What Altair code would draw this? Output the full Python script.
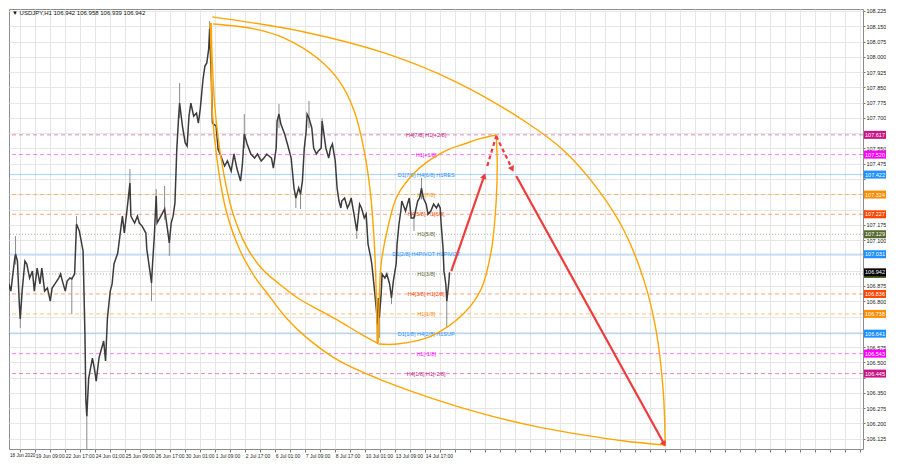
import json
import altair as alt
import pandas as pd

W, H = 854, 440
X_DOM = [4.0, 915.0]
Y_DOM = [106.0748, 108.2348]
FONT = "Liberation Sans"

# ---------------- price path (hour index, close) ----------------
bar_idx = [0, 2, 4, 6, 10, 11, 13, 15, 16, 18, 21, 23, 26, 29, 31, 34, 37, 39, 42, 45,
           48, 50, 53, 57, 59, 61, 64, 66, 69, 71, 74, 76, 79, 81, 83, 85, 86, 87, 89, 91,
           93, 95, 97, 100, 102, 105, 107, 109, 112, 114, 116, 120, 124, 125, 127, 130, 133, 134, 138, 141,
           143, 146, 150, 151, 154, 156, 157, 159, 161, 162, 166, 170, 173, 175, 177, 179, 181, 183, 185, 186,
           189, 192, 194, 196, 198, 201, 204, 206, 208, 209, 211, 213, 215, 217, 218, 220, 221, 225, 227, 230,
           234, 237, 241, 244, 247, 251, 253, 255, 258, 262, 266, 269, 273, 276, 279, 284, 286, 289, 290, 292,
           294, 298, 301, 305, 306, 308, 310, 313, 315, 317, 319, 321, 322, 324, 327, 329, 332, 334, 337, 338,
           340, 342, 345, 347, 349, 352, 354, 356, 358, 359, 362, 365, 367, 369, 372, 375, 378, 380, 383, 385,
           387, 390, 391, 394, 396, 397, 398, 399, 401, 402, 405, 407, 410, 412, 414, 417, 418, 420, 422, 423,
           427, 429, 431, 433, 436, 440, 442, 444, 446, 449, 451, 454, 457, 460, 462, 464, 465, 467, 468, 470,
           471, 473, 474]
close = [107.022, 106.801, 106.885, 106.850, 107.007, 107.032, 106.998, 106.786, 106.713, 106.850,
         106.998, 106.983, 106.914, 106.948, 106.850, 106.963, 106.885, 106.963, 106.850, 106.865,
         106.801, 106.865, 106.885, 106.914, 106.934, 106.899, 106.850, 106.899, 106.914, 106.909,
         106.934, 107.179, 107.145, 107.096, 107.047, 106.639, 106.310, 106.236, 106.423, 106.472,
         106.521, 106.472, 106.408, 106.521, 106.556, 106.605, 106.507, 106.718, 106.850, 106.885,
         106.983, 107.037, 107.184, 107.218, 107.135, 107.253, 107.380, 107.218, 107.184, 107.218,
         107.184, 107.169, 107.135, 107.056, 106.958, 106.890, 106.973, 107.120, 107.317, 107.184,
         107.218, 107.253, 107.155, 107.086, 107.184, 107.218, 107.282, 107.547, 107.709, 107.773,
         107.660, 107.577, 107.562, 107.709, 107.773, 107.709, 107.724, 107.675, 107.744, 107.793,
         107.891, 107.955, 107.970, 108.038, 108.137, 107.871, 107.675, 107.660, 107.547, 107.513,
         107.464, 107.489, 107.439, 107.523, 107.454, 107.390, 107.474, 107.621, 107.572, 107.523,
         107.503, 107.523, 107.489, 107.503, 107.523, 107.503, 107.454, 107.552, 107.685, 107.719,
         107.670, 107.621, 107.572, 107.503, 107.454, 107.356, 107.307, 107.356, 107.326, 107.390,
         107.552, 107.636, 107.719, 107.700, 107.651, 107.552, 107.523, 107.538, 107.552, 107.685,
         107.621, 107.552, 107.503, 107.552, 107.572, 107.489, 107.356, 107.292, 107.258, 107.292,
         107.307, 107.258, 107.277, 107.307, 107.228, 107.145, 107.277, 107.258, 107.209, 107.228,
         107.081, 107.012, 106.983, 106.850, 106.752, 106.688, 106.816, 106.718, 106.835, 106.934,
         106.914, 106.934, 106.885, 106.816, 106.899, 106.983, 107.081, 107.179, 107.243, 107.292,
         107.243, 107.277, 107.307, 107.209, 107.209, 107.292, 107.307, 107.356, 107.307, 107.277,
         107.228, 107.243, 107.277, 107.258, 107.277, 107.258, 107.179, 107.061, 106.948, 106.885,
         106.801, 106.885, 106.942]

wick_idx = [11, 16, 71, 76, 87, 133, 156, 161, 170, 175, 186, 218, 255, 292, 310, 315, 324, 338,
            375, 397, 399, 412, 436, 444, 471]
wick_low = [106.98, 106.669, 106.737, 107.15, 106.065, 107.30, 106.801, 107.25, 107.20, 107.022,
            107.70, 108.05, 107.55, 107.65, 107.258, 107.253, 107.65, 107.62, 107.106, 106.590,
            106.620, 106.786, 107.145, 107.30, 106.669]
wick_high = [107.120, 106.78, 106.92, 107.218, 106.25, 107.449, 106.93, 107.351, 107.366, 107.10,
             107.871, 108.176, 107.719, 107.768, 107.33, 107.34, 107.783, 107.70, 107.16, 106.72,
             106.74, 106.83, 107.22, 107.405, 106.82]

# ---------------- Murrey-style levels ----------------
level_price = [107.617, 107.520, 107.422, 107.324, 107.227, 107.129, 107.031,
               106.934, 106.836, 106.738, 106.641, 106.543, 106.445]
level_name = ["H4[7/8] H1[+2/8]", "H1[+1/8]", "D1[7/8] H4[6/8] H1RES", "H1[7/8]",
              "H4[5/8] H1[6/8]", "H1[5/8]", "D1[2/8] H4PIVOT H1PIVOT", "H1[3/8]",
              "H4[3/8] H1[2/8]", "H1[1/8]", "D1[1/8] H4[2/8] H1SUP", "H1[-1/8]", "H4[1/8] H1[-2/8]"]
level_color = ["#C71585", "#FF00FF", "#1E90FF", "#FF8C00", "#FF4500", "#556B2F", "#1E90FF",
               "#556B2F", "#FF4500", "#FF8C00", "#1E90FF", "#FF00FF", "#C71585"]
level_style = ["dash", "dash", "solid", "dash", "dash", "dot", "solid",
               "dot", "dash", "dash", "solid", "dash", "dash"]
label_at = 449
last_price = 106.942

# ---------------- orange arcs ----------------
arc_A_i = [220.8, 318.9, 404.3, 478.9, 553.6, 596.3, 633.6, 660.3, 681.6, 694.4, 701.9, 704.0]
arc_A_p = [108.196, 108.122, 108.019, 107.881, 107.685, 107.538, 107.341, 107.145, 106.899, 106.654, 106.359, 106.094]
arc_B_i = [221.9, 265.6, 297.6, 332.8, 356.3, 372.3, 382.9, 389.3, 393.6, 395.7, 396.8]
arc_B_p = [108.161, 108.137, 108.092, 107.994, 107.881, 107.734, 107.538, 107.341, 107.096, 106.850, 106.595]
arc_D_i = [219.7, 220.8, 224.0, 230.7, 242.1, 257.1, 274.1, 292.3, 313.6, 334.9, 356.3, 377.6, 396.8]
arc_D_p = [108.166, 107.980, 107.734, 107.489, 107.243, 107.071, 106.958, 106.885, 106.811, 106.757, 106.703, 106.644, 106.595]
arc_E_i = [218.7, 219.7, 220.8, 226.1, 235.7, 250.7, 265.6, 281.6, 300.8, 322.1, 356.3, 404.3, 457.6, 510.9, 564.3, 617.6, 660.3, 704.0]
arc_E_p = [108.166, 107.980, 107.734, 107.489, 107.243, 107.047, 106.924, 106.826, 106.713, 106.619, 106.507, 106.408, 106.320, 106.246, 106.187, 106.143, 106.114, 106.094]
arc_F_i = [397.9, 398.9, 401.1, 408.5, 418.1, 436.3, 454.4, 473.6, 489.6, 505.6, 523.7]
arc_F_p = [106.595, 106.801, 106.988, 107.169, 107.317, 107.430, 107.498, 107.547, 107.572, 107.597, 107.616]
arc_G_i = [397.9, 418.1, 454.4, 489.6, 507.7, 518.4, 523.7, 524.8, 523.7]
arc_G_p = [106.590, 106.590, 106.629, 106.742, 106.860, 107.047, 107.292, 107.474, 107.616]

# ---------------- red projection arrows ----------------
red_solid_i = [[475.8, 510.9], [545.1, 702.9]]
red_solid_p = [[106.948, 107.415], [107.415, 106.099]]
red_dash_i = [[514.2, 523.7], [523.7, 540.8]]
red_dash_p = [[107.464, 107.611], [107.611, 107.449]]
head_i = [510.9, 540.8, 702.9]
head_p = [107.415, 107.449, 106.099]
head_angle = [19, 153, 151]

# ---------------- axes ----------------
y_ticks = [106.125, 106.200, 106.275, 106.350, 106.425, 106.500, 106.575, 106.650, 106.725,
           106.800, 106.875, 106.950, 107.025, 107.100, 107.175, 107.250, 107.325, 107.400,
           107.475, 107.550, 107.625, 107.700, 107.775, 107.850, 107.925, 108.000, 108.075,
           108.150, 108.225]
date_pos = [0, 32, 64, 96, 128, 160, 192, 224, 256, 288, 320, 352, 384, 416, 448]
date_text = ["18 Jun 2020", "19 Jun 09:00", "22 Jun 17:00", "24 Jun 01:00", "25 Jun 09:00",
             "26 Jun 17:00", "30 Jun 01:00", "1 Jul 09:00", "2 Jul 17:00", "6 Jul 01:00",
             "7 Jul 09:00", "8 Jul 17:00", "10 Jul 01:00", "13 Jul 09:00", "14 Jul 17:00"]
x_grid = list(range(16, 916, 16))
title_txt = "\u25BC USDJPY,H1  106.942 106.958 106.939 106.942"

# ---------------- tables ----------------
price_df = pd.DataFrame({"i": bar_idx, "p": close})
wick_df = pd.DataFrame({"i": wick_idx, "p": wick_low, "hi": wick_high})
lev_df = pd.DataFrame({"p": level_price, "name": level_name, "col": level_color,
                       "style": level_style, "i": label_at,
                       "txt": [f"{v:.3f}" for v in level_price]})
arc_rows = []
for name, xs_, ps in [("A", arc_A_i, arc_A_p), ("B", arc_B_i, arc_B_p), ("D", arc_D_i, arc_D_p),
                      ("E", arc_E_i, arc_E_p), ("F", arc_F_i, arc_F_p), ("G", arc_G_i, arc_G_p)]:
    for k, (a, b) in enumerate(zip(xs_, ps)):
        arc_rows.append({"arc": name, "o": k, "i": a, "p": b})
arc_df = pd.DataFrame(arc_rows)


def seg_df(ii, pp):
    rows = []
    for s, (xs_, ps) in enumerate(zip(ii, pp)):
        for k, (a, b) in enumerate(zip(xs_, ps)):
            rows.append({"seg": s, "o": k, "i": a, "p": b})
    return pd.DataFrame(rows)


solid_df = seg_df(red_solid_i, red_solid_p)
dash_df = seg_df(red_dash_i, red_dash_p)
head_df = pd.DataFrame({"i": head_i, "p": head_p, "a": head_angle})
cur_df = pd.DataFrame({"p": [last_price], "txt": [f"{last_price:.3f}"]})

xs = alt.Scale(domain=X_DOM, nice=False, zero=False)
ys = alt.Scale(domain=Y_DOM, nice=False, zero=False)

label_expr = (f"indexof({json.dumps(date_pos)}, datum.value) < 0 ? '' : "
              f"{json.dumps(date_text)}[indexof({json.dumps(date_pos)}, datum.value)]")
# price labels hidden where a coloured tag covers them (as in the terminal)
tag_prices = level_price + [last_price]
y_label_expr = ("(" + " || ".join(f"abs(datum.value - {t}) < 0.025" for t in tag_prices)
                + ") ? '' : format(datum.value, '.3f')")

x_axis = alt.Axis(values=x_grid, labelExpr=label_expr, grid=True, gridColor="#e6e6e6",
                  gridWidth=1, tickSize=3, tickColor="#777", labelFontSize=5,
                  labelAlign="left", labelPadding=1, labelFlush=False,
                  labelOverlap=False, domain=False, labelColor="#222", labelFont=FONT)
y_axis = alt.Axis(orient="right", values=y_ticks, labelExpr=y_label_expr, grid=True,
                  gridColor="#e6e6e6", gridWidth=1, tickSize=2, tickColor="#777",
                  labelFontSize=5.5, labelPadding=1, labelOverlap=False,
                  domain=False, labelColor="#222", labelFont=FONT)
X = alt.X("i:Q", scale=xs, title=None, axis=x_axis)
Y = alt.Y("p:Q", scale=ys, title=None, axis=y_axis)

# level lines
dash_map = {"solid": [1, 0], "dash": [4, 3], "dot": [1, 2]}
level_layers = []
for st in ["solid", "dash", "dot"]:
    sub = lev_df[lev_df["style"] == st]
    level_layers.append(
        alt.Chart(sub).mark_rule(strokeWidth=1, strokeDash=dash_map[st],
                                 opacity=0.4 if st == "solid" else 0.5).encode(
            y=Y, color=alt.Color("col:N", scale=None)))

level_text = alt.Chart(lev_df).mark_text(fontSize=5.5, font=FONT, align="center",
                                          baseline="middle").encode(
    x=X, y=Y, text="name:N", color=alt.Color("col:N", scale=None))

wicks = alt.Chart(wick_df).mark_rule(color="#8a8a8a", strokeWidth=1, clip=True).encode(
    x=X, y=Y, y2="hi:Q")
price_line = alt.Chart(price_df).mark_line(color="#3c3c3c", strokeWidth=1.5, clip=True).encode(
    x=X, y=Y)

arcs = alt.Chart(arc_df).mark_line(color="#FFA500", strokeWidth=1.4,
                                   interpolate="catmull-rom").encode(
    x=X, y=Y, detail="arc:N", order="o:Q")

red_solid = alt.Chart(solid_df).mark_line(color="#EE3B3B", strokeWidth=2.2).encode(
    x=X, y=Y, detail="seg:N", order="o:Q")
red_dash = alt.Chart(dash_df).mark_line(color="#EE3B3B", strokeWidth=2.2,
                                        strokeDash=[4, 3]).encode(
    x=X, y=Y, detail="seg:N", order="o:Q")
heads = alt.Chart(head_df).mark_point(shape="triangle-up", filled=True, size=45,
                                      color="#EE3B3B", opacity=1).encode(
    x=X, y=Y, angle=alt.Angle("a:Q", scale=None))

# price tags on the right axis
tags = alt.Chart(lev_df).mark_tick(size=22, thickness=8, opacity=1).encode(
    x=alt.value(W + 12), y=Y, color=alt.Color("col:N", scale=None))
tag_text = alt.Chart(lev_df).mark_text(fontSize=5.5, font=FONT, color="white",
                                       align="center", baseline="middle").encode(
    x=alt.value(W + 12), y=Y, text="txt:N")
cur_tag = alt.Chart(cur_df).mark_tick(size=22, thickness=8, color="black", opacity=1).encode(
    x=alt.value(W + 12), y=Y)
cur_text = alt.Chart(cur_df).mark_text(fontSize=5.5, font=FONT, color="white",
                                       align="center", baseline="middle").encode(
    x=alt.value(W + 12), y=Y, text="txt:N")

title = alt.Chart(pd.DataFrame({"t": [title_txt]})).mark_text(
    fontSize=6, font=FONT, align="left", baseline="top", color="#111").encode(
    x=alt.value(3), y=alt.value(1), text="t:N")
first_date = alt.Chart(pd.DataFrame({"t": [date_text[0]]})).mark_text(
    fontSize=4.6, font=FONT, align="left", baseline="top", color="#222").encode(
    x=alt.value(1), y=alt.value(H + 4), text="t:N")

chart = alt.layer(
    *level_layers, level_text, wicks, price_line, arcs,
    red_solid, red_dash, heads, tags, tag_text, cur_tag, cur_text, title, first_date
).properties(width=W, height=H, padding=0, background="white").configure_view(
    stroke="#8c8c8c", strokeWidth=1)

chart.save("out.html", embed_options={"renderer": "svg", "actions": False})
